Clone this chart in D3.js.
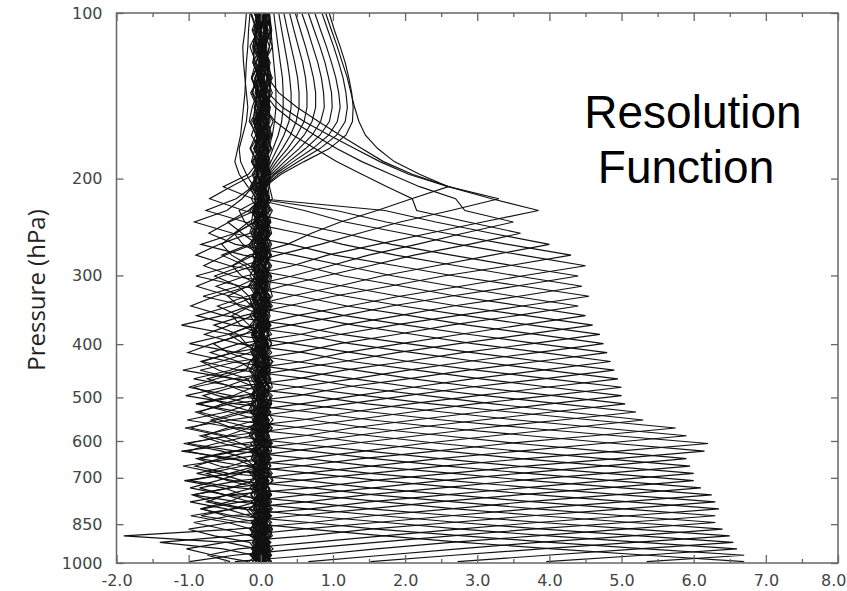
<!DOCTYPE html>
<html><head><meta charset="utf-8">
<script src="https://cdn.jsdelivr.net/npm/d3@7"></script>
<style>html,body{margin:0;padding:0;background:#fff;}svg{display:block;}</style>
</head><body>
<svg id="chart" width="847" height="591"></svg>
<script>
// ---------------- data ----------------
const PRESSURE = [100.2,107.5,115.1,123.1,131.2,139.7,148.4,157.5,166.8,176.4,186.3,196.4,206.9,217.6,228.6,239.9,251.5,263.4,275.6,288.1,300.8,313.9,327.3,341.0,355.0,369.4,384.1,399.1,414.4,430.1,446.1,462.5,479.2,496.3,513.7,531.5,549.6,568.2,587.0,606.3,626.0,646.0,666.4,687.2,708.4,730.0,752.0,774.4,797.2,820.4,844.0,868.0,892.5,917.3,942.6,968.2,994.3];
// peak value of each level's resolution function
const PEAK = [1.28,1.2,1.1,0.99,0.88,0.76,0.64,0.53,0.42,0.31,0.21,0.12,
  2.6,3.3,3.85,3.5,3.6,4.0,4.3,4.5,4.4,4.45,4.55,4.4,4.5,4.6,4.7,4.75,4.8,4.85,4.9,4.95,5.0,5.0,5.05,5.2,5.3,5.75,5.9,6.2,6.15,5.9,5.95,6.0,6.0,6.1,6.25,6.3,6.35,6.3,6.3,6.4,6.5,6.55,6.6,6.7,6.7];
// depth of negative side lobes
const NEG = [0,0,0,0,0.2,0.25,0.3,0.35,0.4,0.45,0.5,0.55,
  0.5,0.55,0.6,0.6,0.55,0.5,0.55,0.6,0.7,0.75,0.8,0.8,0.85,0.9,0.85,0.9,0.9,0.85,0.95,0.9,1.0,0.9,0.95,1.0,0.9,1.0,0.95,0.9,1.0,0.95,0.9,1.0,0.95,0.9,0.95,1.0,0.9,0.95,0.9,1.0,0.95,0.9,0.85,0.8,0.8];
// relative shape of the main lobe at level offsets 0..5, and negative lobe at offsets 6..9
const PROFILE = [1, 0.8, 0.6, 0.42, 0.25, 0.1];
const LOBE = [0.4, 1, 0.55, 0.15];
// near-zero tails of each function
const TAIL = [0.02,-0.05,0.08,-0.02,0.05,-0.08,0.1,0.0,-0.04,0.06,-0.1,0.03,0.07,-0.06,0.01,0.09,-0.03,0.04,-0.07,0.11,-0.01,0.05,-0.09,0.02,0.08,-0.05,0.0,0.06,-0.02,0.1,-0.08,0.03,-0.04,0.07,0.01,-0.06,0.09,-0.03,0.05,-0.1,0.02,0.08,-0.01,0.04,-0.07,0.06,0.0,-0.05,0.1,-0.02,0.03,0.07,-0.08,0.01,0.05,-0.04,0.02];
const WIGGLE = [0.05,-0.03,0.06,-0.05,0.02,-0.06,0.03,0.05,-0.02,-0.05,0.06,-0.03,0.02,0.05,-0.06,0.03,-0.02,0.06,-0.05,0.0,0.05,-0.03,0.03,-0.06,0.02,0.06,-0.05,0.03,-0.03,0.05,-0.02,-0.06,0.05,0.02,-0.03,0.06,-0.05,0.03,0.0,-0.03,0.05,-0.06,0.03,0.02,-0.05,0.06,-0.02,0.03,-0.05,0.05,-0.03,0.02,0.06,-0.05,0.03,-0.02,0.0];
// upper-atmosphere functions (levels 0..13) for functions 0..18
const UPPER = [
 [0.95,1.02,1.10,1.17,1.22,1.26,1.28,1.27,1.18,0.95,0.60,0.28,0.06,0.02],
 [0.85,0.93,1.01,1.08,1.14,1.18,1.20,1.17,1.05,0.82,0.52,0.24,0.05,0.01],
 [0.75,0.83,0.91,0.98,1.04,1.08,1.10,1.06,0.94,0.72,0.45,0.20,0.04,0.00],
 [0.66,0.74,0.82,0.89,0.94,0.98,0.99,0.95,0.82,0.62,0.39,0.18,0.04,0.00],
 [0.57,0.65,0.72,0.79,0.84,0.87,0.88,0.83,0.71,0.53,0.33,0.15,0.03,0.00],
 [0.48,0.55,0.62,0.68,0.73,0.76,0.76,0.71,0.60,0.44,0.27,0.12,0.03,0.00],
 [0.40,0.46,0.52,0.58,0.62,0.64,0.64,0.60,0.50,0.37,0.22,0.10,0.02,0.00],
 [0.32,0.37,0.42,0.47,0.51,0.53,0.53,0.49,0.41,0.30,0.18,0.08,0.02,0.00],
 [0.25,0.29,0.33,0.37,0.40,0.42,0.42,0.39,0.32,0.23,0.14,0.07,0.02,0.00],
 [0.18,0.21,0.24,0.27,0.30,0.31,0.31,0.29,0.24,0.17,0.10,0.05,0.01,0.00],
 [0.12,0.14,0.16,0.18,0.20,0.21,0.21,0.19,0.16,0.11,0.07,0.03,0.01,0.00],
 [0.06,0.07,0.08,0.10,0.11,0.12,0.12,0.11,0.09,0.06,0.04,0.02,0.00,0.00],
 [0.90,0.98,1.06,1.13,1.20,1.25,1.30,1.36,1.45,1.62,1.85,2.20,2.60,2.08],
 [0.00,0.00,0.00,0.02,0.10,0.25,0.50,0.80,1.10,1.40,1.70,2.10,2.60,3.30],
 [0.00,0.00,0.00,0.00,0.02,0.10,0.30,0.60,0.95,1.30,1.65,2.05,2.60,3.20],
 [0.00,0.00,0.00,0.00,0.00,0.05,0.20,0.45,0.75,1.05,1.40,1.80,2.20,2.70],
 [0.00,0.00,0.00,0.00,0.00,0.00,0.05,0.20,0.45,0.75,1.05,1.40,1.75,2.10],
 [-0.20,-0.22,-0.25,-0.24,-0.22,-0.20,-0.18,-0.20,-0.25,-0.30,-0.28,-0.20,-0.10,0.00],
 [-0.15,-0.17,-0.18,-0.20,-0.21,-0.22,-0.24,-0.26,-0.28,-0.32,-0.36,-0.30,-0.18,-0.05]
];
// isolated strong negative values [function, level, value]
const SPIKES = [[45,52,-1.9],[46,53,-1.4],[33,40,-1.1]];
const X_TICKS = [-2,-1,0,1,2,3,4,5,6,7,8];
const X_MINOR = [-1.5,-0.5,0.5,1.5,2.5,3.5,4.5,5.5,6.5,7.5];
const Y_TICKS = [100,200,300,400,500,600,700,850,1000];
const TITLE = ["Resolution", "Function"];
const Y_TITLE = "Pressure (hPa)";

// ---------------- build functions ----------------
function valueAt(k, j) {
  for (const s of SPIKES) if (s[0] === k && s[1] === j) return s[2];
  if (k < UPPER.length && j < UPPER[k].length && (k < 12 || j < k)) return UPPER[k][j];
  const tail = TAIL[k] + WIGGLE[(j + 5 * k) % WIGGLE.length];
  const d = Math.abs(j - k);
  if (d < PROFILE.length) return PEAK[k] * PROFILE[d] + (1 - PROFILE[d]) * tail;
  if (d < PROFILE.length + LOBE.length) return -NEG[k] * LOBE[d - PROFILE.length] + tail;
  return tail;
}
const kernels = PRESSURE.map((p, k) => PRESSURE.map((pj, j) => ({p: pj, v: valueAt(k, j)})));

// ---------------- draw ----------------
const svg = d3.select("#chart");
const L = 116.5, R = 838, T = 13, B = 563;
const x = d3.scaleLinear().domain([-2, 8]).range([L, R]);
const y = d3.scaleLog().domain([100, 1000]).range([T, B]);

svg.append("defs").append("clipPath").attr("id", "clip")
  .append("rect").attr("x", L).attr("y", T).attr("width", R - L).attr("height", B - T);

const line = d3.line().x(d => x(d.v)).y(d => y(d.p));
svg.append("g").attr("clip-path", "url(#clip)")
  .selectAll("path").data(kernels).join("path")
  .attr("d", line)
  .attr("fill", "none")
  .attr("stroke", "#111")
  .attr("stroke-width", 1.15)
  .attr("stroke-linejoin", "miter");

// frame
svg.append("rect").attr("x", L).attr("y", T).attr("width", R - L).attr("height", B - T)
  .attr("fill", "none").attr("stroke", "#666").attr("stroke-width", 1.5);

// ticks (inward)
const fmtX = d => d3.format(".1f")(d).replace("\u2212", "-");
const axB = d3.axisBottom(x).tickValues(X_TICKS).tickSize(-8).tickFormat(fmtX).tickPadding(18);
const gB = svg.append("g").attr("transform", `translate(0,${B})`).call(axB);
svg.append("g").attr("transform", `translate(0,${T})`).call(d3.axisTop(x).tickValues(X_TICKS).tickSize(-8).tickFormat(""));
svg.append("g").attr("transform", `translate(0,${B})`).call(d3.axisBottom(x).tickValues(X_MINOR).tickSize(-4).tickFormat(""));
svg.append("g").attr("transform", `translate(0,${T})`).call(d3.axisTop(x).tickValues(X_MINOR).tickSize(-4).tickFormat(""));
const axL = d3.axisLeft(y).tickValues(Y_TICKS).tickSize(-7).tickFormat(d3.format("d")).tickPadding(14);
svg.append("g").attr("transform", `translate(${L},0)`).call(axL);
svg.append("g").attr("transform", `translate(${R},0)`).call(d3.axisRight(y).tickValues(Y_TICKS).tickSize(-7).tickFormat(""));

svg.selectAll(".domain").remove();
svg.selectAll(".tick line").attr("stroke", "#666").attr("stroke-width", 1.3);
svg.selectAll(".tick text").attr("fill", "#444")
  .style("font-family", "'DejaVu Sans', sans-serif").style("font-size", "16px");
gB.selectAll(".tick text").attr("dy", "0.32em");
// last label sits against the right edge of the picture
gB.selectAll(".tick").filter(d => d === 8).select("text")
  .attr("text-anchor", "end").attr("x", 847 - R - 1);

// titles
const tg = svg.append("g").attr("font-family", "'Liberation Sans', Arial, sans-serif")
  .attr("font-size", 46).attr("fill", "#000").attr("text-anchor", "middle");
tg.append("text").attr("x", 693).attr("y", 128).text(TITLE[0]);
tg.append("text").attr("x", 686).attr("y", 183).text(TITLE[1]);

svg.append("text").attr("transform", "translate(45,290) rotate(-90)")
  .attr("text-anchor", "middle").attr("font-family", "'Open Sans', sans-serif")
  .attr("font-size", 24).attr("fill", "#222").text(Y_TITLE);
</script>
</body></html>
